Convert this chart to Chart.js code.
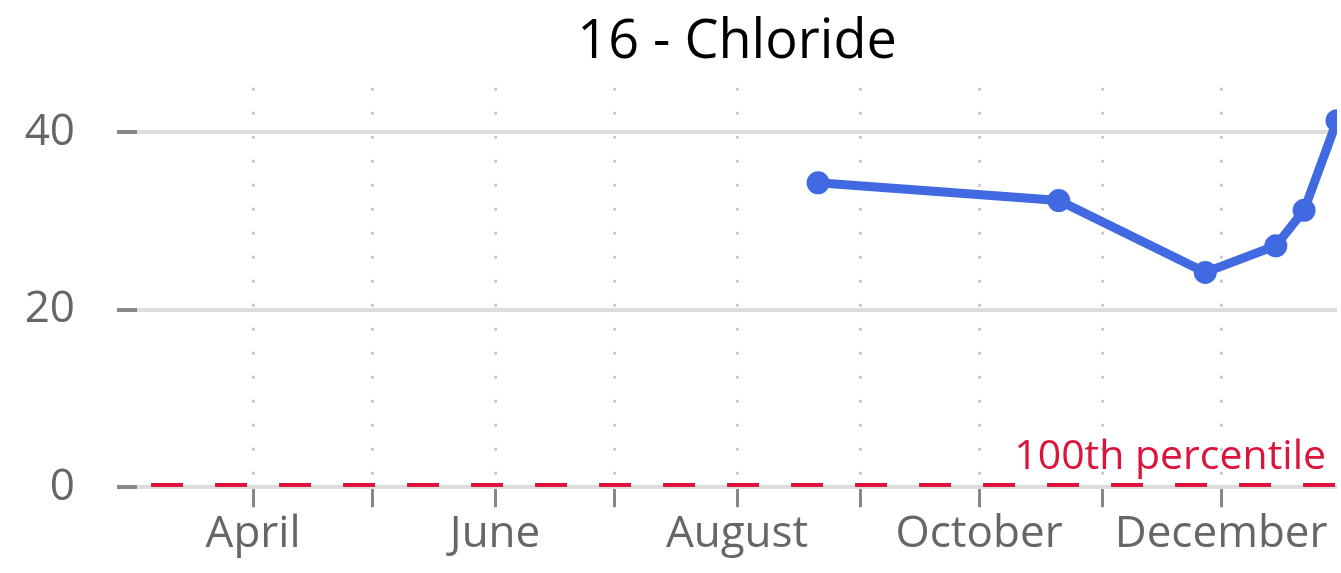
<!DOCTYPE html>
<html>
<head>
<meta charset="utf-8">
<script src="https://cdn.jsdelivr.net/npm/chart.js@4.4.1/dist/chart.umd.min.js"></script>
<style>
html,body{margin:0;padding:0;background:#fff;overflow:hidden}
canvas{display:block}
</style>
</head>
<body>
<canvas id="c" width="1341" height="573"></canvas>
<script>
const titleText = '16 - Chloride';
const sampleDates = ['2023-08-21T10:00', '2023-10-21T02:00', '2023-11-27T00:00', '2023-12-14T19:00', '2023-12-21T22:00', '2023-12-30T05:00'];
const chlorideValues = [34.3, 32.3, 24.2, 27.2, 31.2, 41.3];
const thresholdLabel = '100th percentile';
const thresholdValue = 0.25;
const thresholdDates = ['2023-03-06T07:00', '2023-12-30T05:00'];
const xRange = ['2023-03-02T18:00', '2023-12-30T05:00'];
const monthTickDates = ['2023-04-01', '2023-05-01', '2023-06-01', '2023-07-01', '2023-08-01', '2023-09-01', '2023-10-01', '2023-11-01', '2023-12-01'];
const monthTickLabels = ['April', '', 'June', '', 'August', '', 'October', '', 'December'];
const yTicks = [0, 20, 40];
const yRange = [0, 45];

const FONT = "'Open Sans', 'Noto Sans', sans-serif";
function toDay(s) {
  const iso = s.length === 10 ? s + 'T00:00Z' : s + 'Z';
  return Date.parse(iso) / 86400000;
}
const monthTickValues = monthTickDates.map(toDay);

const overlayTextPlugin = {
  id: 'overlayText',
  afterDatasetsDraw(chart) {
    const {ctx, chartArea, scales} = chart;
    ctx.save();
    ctx.font = '54px ' + FONT;
    ctx.fillStyle = '#000';
    ctx.textAlign = 'center';
    ctx.textBaseline = 'alphabetic';
    ctx.fillText(titleText, (chartArea.left + chartArea.right) / 2, 58);
    const y = scales.y.getPixelForValue(thresholdValue);
    ctx.font = '41px ' + FONT;
    ctx.fillStyle = '#DC143C';
    ctx.textAlign = 'right';
    ctx.fillText(thresholdLabel, chartArea.right - 11, y - 16);
    ctx.restore();
  }
};

new Chart(document.getElementById('c'), {
  type: 'line',
  data: {
    datasets: [
      {
        label: 'Chloride',
        data: sampleDates.map((d, i) => ({x: toDay(d), y: chlorideValues[i]})),
        borderColor: '#4169E1',
        backgroundColor: '#4169E1',
        borderWidth: 9,
        pointRadius: 10.5,
        pointBorderWidth: 2,
        pointBackgroundColor: '#4169E1',
        pointBorderColor: '#4169E1',
        tension: 0,
        fill: false
      },
      {
        label: thresholdLabel,
        data: thresholdDates.map(d => ({x: toDay(d), y: thresholdValue})),
        borderColor: '#DC143C',
        borderWidth: 4,
        borderDash: [32, 32],
        pointRadius: 0,
        fill: false
      }
    ]
  },
  options: {
    responsive: false,
    animation: false,
    events: [],
    layout: {autoPadding: false, padding: {left: 0, right: 4, top: 0, bottom: 11}},
    plugins: {
      legend: {display: false},
      tooltip: {enabled: false},
      title: {
        display: true,
        text: titleText,
        color: 'rgba(0,0,0,0)',
        font: {family: FONT, size: 54, weight: 'normal'},
        padding: {top: 4, bottom: 19}
      }
    },
    scales: {
      x: {
        type: 'linear',
        min: toDay(xRange[0]),
        max: toDay(xRange[1]),
        afterBuildTicks: (scale) => { scale.ticks = monthTickValues.map(v => ({value: v})); },
        afterFit: (scale) => { scale.paddingLeft = 0; scale.paddingRight = 0; },
        ticks: {
          autoSkip: false,
          maxRotation: 0,
          padding: 1,
          color: '#666',
          font: {family: FONT, size: 44},
          callback: (value) => {
            const i = monthTickValues.findIndex(v => Math.abs(v - value) < 0.01);
            return i >= 0 ? monthTickLabels[i] : '';
          }
        },
        grid: {
          color: '#cccccc',
          lineWidth: 3,
          tickLength: 20,
          tickColor: '#888',
          tickWidth: 3,
          tickBorderDash: []
        },
        border: {display: false, dash: [3, 21]}
      },
      y: {
        type: 'linear',
        min: yRange[0],
        max: yRange[1],
        afterBuildTicks: (scale) => { scale.ticks = yTicks.map(v => ({value: v})); },
        afterFit: (scale) => { scale.width = 137; },
        ticks: {
          padding: 42,
          color: '#666',
          font: {family: FONT, size: 44}
        },
        grid: {
          color: '#dddddd',
          lineWidth: 4,
          tickLength: 20,
          tickColor: '#888',
          tickWidth: 4
        },
        border: {display: false}
      }
    }
  },
  plugins: [overlayTextPlugin]
});
</script>
</body>
</html>
